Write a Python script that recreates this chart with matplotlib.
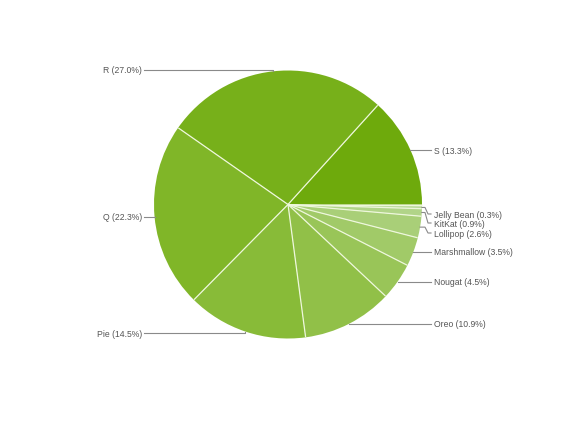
import numpy as np
import matplotlib
matplotlib.use("Agg")
import matplotlib.pyplot as plt

names = ["S", "R", "Q", "Pie", "Oreo", "Nougat", "Marshmallow",
         "Lollipop", "KitKat", "Jelly Bean"]
shares = [13.3, 27.0, 22.3, 14.5, 10.9, 4.5, 3.5, 2.6, 0.9, 0.3]
colors = ["#6eaa0c", "#77b01a", "#80b628", "#88bb38", "#91c048",
          "#99c558", "#a1ca68", "#a9cf78", "#b1d488", "#b9d998"]
# label rows (pixel y from top) for the crowded right-side slices
label_rows = {"Lollipop": 233, "KitKat": 223, "Jelly Bean": 214}

H = 428
cx, cy, r = 288, H - 204.5, 134

plt.rcParams['font.family'] = ['Liberation Sans', 'DejaVu Sans']
fig = plt.figure(figsize=(5.7, 4.28), dpi=100)
ax = fig.add_axes([0, 0, 1, 1])

fracs = [v / 100 for v in shares]
wedges, _ = ax.pie(fracs, colors=colors, startangle=0, counterclock=True,
                   center=(cx, cy), radius=r, normalize=False,
                   wedgeprops=dict(linewidth=0))
ax.set_xlim(0, 570)
ax.set_ylim(0, H)
ax.set_aspect('equal')
ax.axis('off')

# thin light separators between slices
for w in wedges:
    a = np.deg2rad(w.theta1)
    ax.plot([cx, cx + (r - 0.3) * np.cos(a)], [cy, cy + (r - 0.3) * np.sin(a)],
            color="#eef7dc", lw=0.9, solid_capstyle='butt')

line_col = "#8a8a8a"
txt_col = "#555555"
for w, name, v in zip(wedges, names, shares):
    mid = np.deg2rad((w.theta1 + w.theta2) / 2)
    ex = cx + r * np.cos(mid)
    ey = cy + r * np.sin(mid)
    label = f"{name} ({v:.1f}%)"
    if ex > cx:
        if name in label_rows:
            ly = H - label_rows[name]
            ax.plot([ex, 425, 428, 431], [ey, ey, ly, ly], color=line_col, lw=0.8)
        else:
            ly = ey
            ax.plot([ex, 431], [ey, ey], color=line_col, lw=0.8)
        ax.text(434, ly, label, ha='left', va='center_baseline', fontsize=6.2, color=txt_col)
    else:
        if ey > cy + 0.8 * r:
            ly = ey + 1.5
        elif ey < cy - 0.8 * r:
            ly = ey - 1.5
        else:
            ly = ey
        ax.plot([ex, ex, 144], [ey, ly, ly], color=line_col, lw=0.8)
        ax.text(142, ly, label, ha='right', va='center_baseline', fontsize=6.2, color=txt_col)

fig.savefig("out.png", dpi=100)
